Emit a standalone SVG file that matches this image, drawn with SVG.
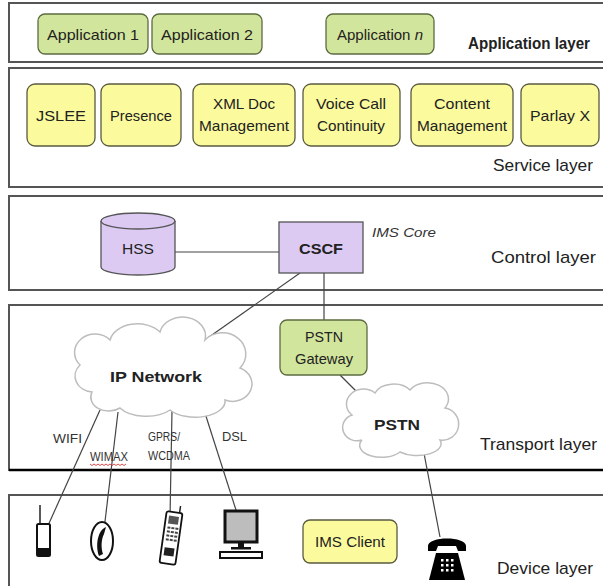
<svg xmlns="http://www.w3.org/2000/svg" width="603" height="586" viewBox="0 0 603 586">
<style>
.layer{fill:#fff;stroke:#555;stroke-width:2}
.green{fill:#d2e59c;stroke:#5c6b40;stroke-width:1.3}
.yellow{fill:#fbfb9e;stroke:#5a5a40;stroke-width:1.3}
.purple{fill:#dccaf3;stroke:#555;stroke-width:1.3}
.cloud{fill:#fff;stroke:#bdbdbd;stroke-width:1.5}
.t{font-family:"Liberation Sans",Arial,sans-serif;font-size:15px;fill:#222;text-anchor:middle}
.lbl{font-family:"Liberation Sans",Arial,sans-serif;font-size:17px;fill:#222}
.sm{font-family:"Liberation Sans",Arial,sans-serif;font-size:12px;fill:#333}
.ln{stroke:#444;stroke-width:1.2;fill:none}
</style>
<rect width="603" height="586" fill="#fff"/>
<g id="layers">
<rect class="layer" x="9" y="3" width="610" height="59"/>
<rect class="layer" x="9" y="68" width="610" height="119"/>
<rect class="layer" x="9" y="196" width="610" height="94"/>
<rect class="layer" x="9" y="305" width="610" height="165"/>
<line x1="9" y1="470" x2="603" y2="470" stroke="#000" stroke-width="2.5"/>
<rect class="layer" x="9" y="495" width="610" height="100"/>
</g>
<g id="layer-labels">
<text class="lbl" x="468" y="49" font-weight="bold" font-size="16" textLength="122" lengthAdjust="spacingAndGlyphs">Application layer</text>
<text class="lbl" x="493" y="171" textLength="100" lengthAdjust="spacingAndGlyphs">Service layer</text>
<text class="lbl" x="491" y="263" textLength="105" lengthAdjust="spacingAndGlyphs">Control layer</text>
<text class="lbl" x="480" y="450" textLength="117" lengthAdjust="spacingAndGlyphs">Transport layer</text>
<text class="lbl" x="497" y="574" textLength="96" lengthAdjust="spacingAndGlyphs">Device layer</text>
</g>
<g id="connectors">
<line class="ln" x1="175" y1="252" x2="279" y2="252" stroke-width="2"/>
<line class="ln" x1="300" y1="273" x2="202" y2="342"/>
<line class="ln" x1="324" y1="273" x2="324" y2="320"/>
<line class="ln" x1="340" y1="375" x2="366" y2="401"/>
<line class="ln" x1="423" y1="448" x2="440" y2="537"/>
<line class="ln" x1="100" y1="410" x2="46" y2="530"/>
<line class="ln" x1="118" y1="412" x2="104" y2="530"/>
<line class="ln" x1="172" y1="411" x2="170" y2="518"/>
<line class="ln" x1="204" y1="410" x2="244" y2="535"/>
</g>
<g id="app1"><rect class="green" x="38" y="14" width="110" height="40" rx="7"/><text class="t" x="93" y="40" textLength="92" lengthAdjust="spacingAndGlyphs">Application 1</text></g>
<g id="app2"><rect class="green" x="152" y="14" width="110" height="40" rx="7"/><text class="t" x="207" y="40" textLength="92" lengthAdjust="spacingAndGlyphs">Application 2</text></g>
<g id="appn"><rect class="green" x="326" y="14" width="108" height="40" rx="7"/><text class="t" x="380" y="40" textLength="86" lengthAdjust="spacingAndGlyphs">Application <tspan font-style="italic">n</tspan></text></g>
<g id="jslee"><rect class="yellow" x="27" y="84" width="68" height="62" rx="8"/><text class="t" x="61" y="121" textLength="50" lengthAdjust="spacingAndGlyphs">JSLEE</text></g>
<g id="presence"><rect class="yellow" x="101" y="84" width="80" height="62" rx="8"/><text class="t" x="141" y="121" textLength="62" lengthAdjust="spacingAndGlyphs">Presence</text></g>
<g id="xmldoc"><rect class="yellow" x="193" y="84" width="102" height="62" rx="8"/><text class="t" x="244" y="109" textLength="62" lengthAdjust="spacingAndGlyphs">XML Doc</text><text class="t" x="244" y="131" textLength="90" lengthAdjust="spacingAndGlyphs">Management</text></g>
<g id="vcc"><rect class="yellow" x="303" y="84" width="97" height="62" rx="8"/><text class="t" x="351" y="109" textLength="70" lengthAdjust="spacingAndGlyphs">Voice Call</text><text class="t" x="351" y="131" textLength="68" lengthAdjust="spacingAndGlyphs">Continuity</text></g>
<g id="content"><rect class="yellow" x="411" y="84" width="102" height="62" rx="8"/><text class="t" x="462" y="109" textLength="56" lengthAdjust="spacingAndGlyphs">Content</text><text class="t" x="462" y="131" textLength="90" lengthAdjust="spacingAndGlyphs">Management</text></g>
<g id="parlay"><rect class="yellow" x="521" y="84" width="78" height="62" rx="8"/><text class="t" x="560" y="121" textLength="60" lengthAdjust="spacingAndGlyphs">Parlay X</text></g>
<g id="hss">
<path class="purple" d="M101,221 A37,8 0 0 1 175,221 V267 A37,8 0 0 1 101,267 Z"/>
<path class="purple" d="M101,221 A37,8 0 0 0 175,221" fill="none"/>
<text class="t" x="138" y="254" textLength="32" lengthAdjust="spacingAndGlyphs">HSS</text>
</g>
<g id="cscf">
<rect class="purple" x="279" y="222" width="84" height="51"/>
<text class="t" x="321" y="254" font-weight="bold" font-size="16" textLength="44" lengthAdjust="spacingAndGlyphs">CSCF</text>
<text class="sm" x="372" y="237" font-style="italic" font-size="13" textLength="64" lengthAdjust="spacingAndGlyphs">IMS Core</text>
</g>
<g id="ipnet">
<path class="cloud" d="M92,392 A18,16 0 0 1 80,365 A20,18 0 0 1 110,340 A28,20 0 0 1 160,332 A22,18 0 0 1 205,340 A22,20 0 0 1 240,368 A18,16 0 0 1 225,400 A30,16 0 0 1 170,410 A30,16 0 0 1 120,408 A18,14 0 0 1 92,392 Z"/>
<text class="t" x="156" y="382" font-weight="bold" font-size="17" textLength="92" lengthAdjust="spacingAndGlyphs">IP Network</text>
</g>
<g id="gateway"><rect class="green" x="280" y="320" width="87" height="55" rx="7"/><text class="t" x="324" y="342" textLength="38" lengthAdjust="spacingAndGlyphs">PSTN</text><text class="t" x="324" y="364" textLength="58" lengthAdjust="spacingAndGlyphs">Gateway</text></g>
<g id="pstn">
<path class="cloud" d="M362,440 A14,13 0 0 1 352,415 A16,14 0 0 1 375,393 A20,14 0 0 1 410,390 A18,14 0 0 1 445,408 A14,14 0 0 1 440,440 A24,12 0 0 1 400,452 A22,12 0 0 1 362,440 Z"/>
<text class="t" x="397" y="430" font-weight="bold" font-size="17" textLength="46" lengthAdjust="spacingAndGlyphs">PSTN</text>
</g>
<g id="access-labels">
<text class="sm" x="53" y="443" textLength="29" lengthAdjust="spacingAndGlyphs">WIFI</text>
<text class="sm" x="90" y="461" textLength="38" lengthAdjust="spacingAndGlyphs">WIMAX</text>
<path d="M90,464 l2,1.5 l2,-1.5 l2,1.5 l2,-1.5 l2,1.5 l2,-1.5 l2,1.5 l2,-1.5 l2,1.5 l2,-1.5 l2,1.5 l2,-1.5 l2,1.5 l2,-1.5 l2,1.5 l2,-1.5 l2,1.5 l2,-1.5" fill="none" stroke="#d02020" stroke-width="0.8"/>
<text class="sm" x="148" y="441" textLength="32" lengthAdjust="spacingAndGlyphs">GPRS/</text>
<text class="sm" x="148" y="460" textLength="42" lengthAdjust="spacingAndGlyphs">WCDMA</text>
<text class="sm" x="222" y="441" textLength="25" lengthAdjust="spacingAndGlyphs">DSL</text>
</g>
<g id="mobile">
<line x1="40" y1="505" x2="40" y2="526" stroke="#222" stroke-width="1.5"/>
<rect x="37" y="524" width="13" height="32" rx="1.5" fill="#fff" stroke="#111" stroke-width="2"/>
<rect x="37" y="548" width="13" height="8" fill="#111"/>
</g>
<g id="wphone">
<ellipse cx="102" cy="541" rx="11" ry="19" fill="#fff" stroke="#111" stroke-width="2"/>
<path d="M106,527 C98,530 95,545 99,556 L103,554 C101,548 101,540 104,534 Z" fill="#111"/>
</g>
<g id="cellphone">
<g transform="rotate(8 171 538)">
<line x1="176" y1="505" x2="176" y2="514" stroke="#222" stroke-width="1.5"/>
<rect x="163" y="512" width="16" height="52" rx="2" fill="#fff" stroke="#111" stroke-width="1.8"/>
<rect x="166" y="516" width="10" height="8" fill="#555"/>
<g fill="#444"><rect x="166" y="527" width="3" height="2"/><rect x="170" y="527" width="3" height="2"/><rect x="174" y="527" width="3" height="2"/>
<rect x="166" y="531" width="3" height="2"/><rect x="170" y="531" width="3" height="2"/><rect x="174" y="531" width="3" height="2"/>
<rect x="166" y="535" width="3" height="2"/><rect x="170" y="535" width="3" height="2"/><rect x="174" y="535" width="3" height="2"/>
<rect x="166" y="539" width="3" height="2"/><rect x="170" y="539" width="3" height="2"/><rect x="174" y="539" width="3" height="2"/></g>
<rect x="166" y="548" width="10" height="8" fill="#222"/>
</g>
</g>
<g id="computer">
<rect x="225" y="511" width="32" height="31" fill="#bdbdbd" stroke="#111" stroke-width="3"/>
<rect x="238" y="542" width="6" height="5" fill="#111"/>
<rect x="231" y="547" width="20" height="2.5" fill="#111"/>
<rect x="220" y="552" width="42" height="6" fill="#fff" stroke="#111" stroke-width="2"/>
</g>
<g id="imsclient"><rect class="yellow" x="303" y="520" width="94" height="43" rx="7"/><text class="t" x="350" y="547" textLength="70" lengthAdjust="spacingAndGlyphs">IMS Client</text></g>
<g id="deskphone">
<path d="M428,546 C428,536 466,536 466,546 L466,551 L458,551 L456,546 L438,546 L436,551 L428,551 Z" fill="#000"/>
<path d="M436,553 L458,553 L465,580 L429,580 Z" fill="#000"/>
<g fill="#fff"><rect x="441" y="559" width="2.5" height="2.5"/><rect x="446" y="559" width="2.5" height="2.5"/><rect x="451" y="559" width="2.5" height="2.5"/>
<rect x="441" y="564" width="2.5" height="2.5"/><rect x="446" y="564" width="2.5" height="2.5"/><rect x="451" y="564" width="2.5" height="2.5"/>
<rect x="441" y="569" width="2.5" height="2.5"/><rect x="446" y="569" width="2.5" height="2.5"/><rect x="451" y="569" width="2.5" height="2.5"/></g>
</g>
</svg>
